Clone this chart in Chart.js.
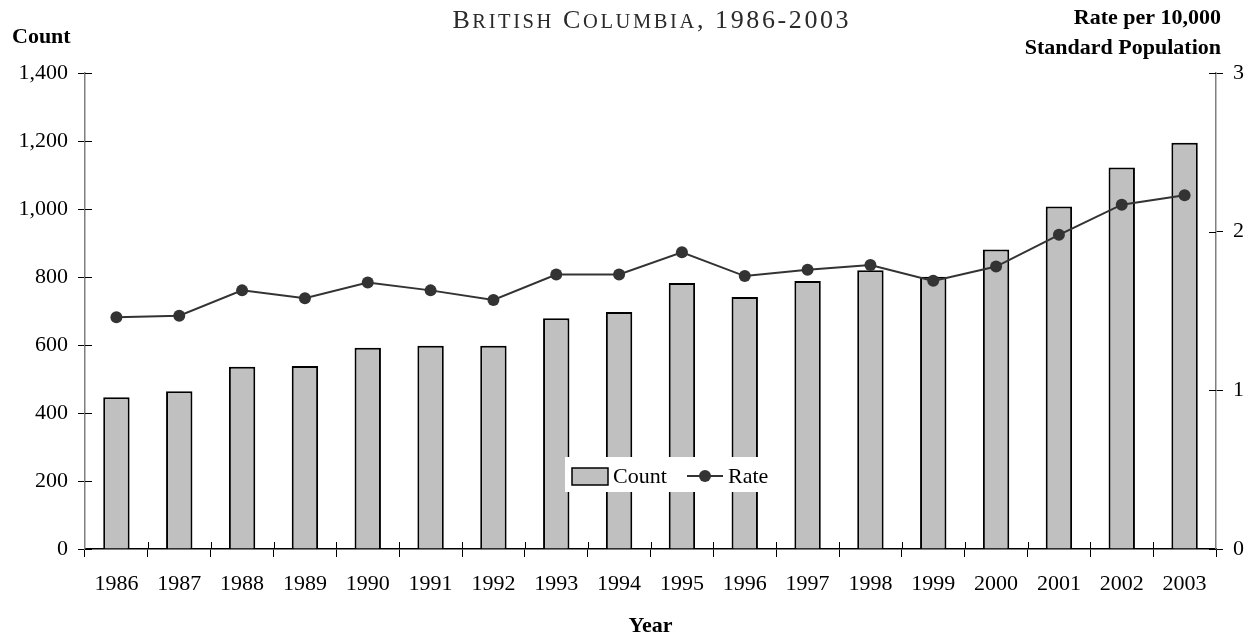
<!DOCTYPE html>
<html>
<head>
<meta charset="utf-8">
<script src="https://cdn.jsdelivr.net/npm/chart.js@4"></script>
<style>
  body { margin: 0; background: #fff; }
  #wrap { width: 1251px; height: 637px; position: relative; }
</style>
</head>
<body>
<div id="wrap"><canvas id="theGraph"></canvas></div>
<script>
// years on the x-axis
var years = ["1986", "1987", "1988", "1989", "1990", "1991", "1992", "1993", "1994",
             "1995", "1996", "1997", "1998", "1999", "2000", "2001", "2002", "2003"];
// counts (left axis)
var counts = [446, 464, 536, 538, 592, 598, 598, 679, 697, 782, 741, 788, 820, 801, 881, 1007, 1122, 1195];
// rate per 10,000 standard population (right axis)
var rates = [1.46, 1.47, 1.63, 1.58, 1.68, 1.63, 1.57, 1.73, 1.73, 1.87, 1.72, 1.76, 1.79, 1.69, 1.78, 1.98, 2.17, 2.23];

var serif = "'Liberation Serif', 'Times New Roman', serif";
var titleText = "British Columbia, 1986-2003";

// small caps by hand: lower case letters drawn as smaller capitals
function drawSmallCaps(c, text, cx, baseline) {
    var big = "26px " + serif, small = "20.5px " + serif, gap = 2.6;
    var parts = [];
    var total = 0;
    for (var i = 0; i < text.length; i++) {
        var ch = text[i];
        var low = ch !== ch.toUpperCase();
        var f = low ? small : big;
        c.font = f;
        var w = c.measureText(ch.toUpperCase()).width;
        parts.push([ch.toUpperCase(), f, w]);
        total += w + (i < text.length - 1 ? gap : 0);
    }
    var x = cx - total / 2;
    c.textAlign = "left";
    c.textBaseline = "alphabetic";
    parts.forEach(function (p) {
        c.font = p[1];
        c.fillText(p[0], x, baseline);
        x += p[2] + gap;
    });
}

// titles, legend and the inside half of the ticks
var extras = {
    id: "extras",
    afterDatasetsDraw: function (chart) {
        var c = chart.ctx;
        c.save();
        // legend box
        c.fillStyle = "#fff";
        c.fillRect(565, 457, 216, 35);
        c.fillStyle = "#c0c0c0";
        c.fillRect(572, 468, 36, 17);
        c.strokeStyle = "#000";
        c.lineWidth = 1.5;
        c.strokeRect(572, 468, 36, 17);
        c.fillStyle = "#000";
        c.font = "22px " + serif;
        c.textBaseline = "middle";
        c.textAlign = "left";
        c.fillText("Count", 613, 477);
        c.strokeStyle = "#333";
        c.lineWidth = 2;
        c.beginPath();
        c.moveTo(687, 476);
        c.lineTo(723, 476);
        c.stroke();
        c.fillStyle = "#333";
        c.beginPath();
        c.arc(705, 476, 6, 0, Math.PI * 2);
        c.fill();
        c.fillStyle = "#000";
        c.fillText("Rate", 728, 477);
        c.restore();
    },
    afterDraw: function (chart) {
        var c = chart.ctx;
        var a = chart.chartArea;
        c.save();
        c.strokeStyle = "#000";
        c.lineWidth = 1;
        c.beginPath();
        var ys = chart.scales.y;
        ys.ticks.forEach(function (t, i) {
            var py = Math.round(ys.getPixelForTick(i)) + 0.5;
            c.moveTo(a.left, py);
            c.lineTo(a.left + 7, py);
        });
        var y1 = chart.scales.y1;
        y1.ticks.forEach(function (t, i) {
            var py = Math.round(y1.getPixelForTick(i)) + 0.5;
            c.moveTo(a.right, py);
            c.lineTo(a.right - 7, py);
        });
        var n = years.length;
        for (var i = 1; i < n; i++) {
            var px = Math.round(a.left + i * (a.right - a.left) / n) + 0.5;
            c.moveTo(px, a.bottom);
            c.lineTo(px, a.bottom - 7);
        }
        c.stroke();

        // title
        c.fillStyle = "#2a2a2a";
        drawSmallCaps(c, titleText, (a.left + a.right) / 2, 28);

        // axis titles
        c.fillStyle = "#000";
        c.font = "bold 22px " + serif;
        c.textBaseline = "middle";
        c.textAlign = "left";
        c.fillText("Count", 12, 37);
        c.textAlign = "right";
        c.fillText("Rate per 10,000", 1221, 18);
        c.fillText("Standard Population", 1221, 48);
        c.restore();
    }
};

var ctx = document.getElementById("theGraph");

var graph = new Chart(ctx, {
    type: "bar",
    data: {
        labels: years,
        datasets: [
            {
                type: "line",
                label: "Rate",
                data: rates,
                yAxisID: "y1",
                borderColor: "#333",
                borderWidth: 2,
                pointRadius: 6,
                pointBackgroundColor: "#333",
                pointBorderWidth: 0,
                tension: 0,
                order: 0
            },
            {
                label: "Count",
                data: counts,
                yAxisID: "y",
                backgroundColor: "#c0c0c0",
                borderColor: "#000",
                borderWidth: 2,
                categoryPercentage: 1,
                barPercentage: 0.42,
                order: 1
            }
        ]
    },
    options: {
        responsive: true,
        maintainAspectRatio: false,
        animation: false,
        layout: { padding: { top: 73, left: 0, right: 0, bottom: 0 } },
        plugins: {
            legend: { display: false },
            tooltip: { enabled: false },
            title: { display: false }
        },
        scales: {
            x: {
                offset: true,
                grid: { offset: true, drawOnChartArea: false, drawTicks: true, tickLength: 8, color: "#000" },
                border: { color: "#000", width: 1.5 },
                ticks: { color: "#000", font: { family: serif, size: 22 }, padding: 14, maxRotation: 0, autoSkip: false },
                title: {
                    display: true,
                    text: "Year",
                    color: "#000",
                    font: { family: serif, size: 22, weight: "bold", lineHeight: 1 },
                    padding: { top: 0, bottom: 0 }
                },
                afterFit: function (s) { s.height = 88; }
            },
            y: {
                position: "left",
                min: 0,
                max: 1400,
                grid: { drawOnChartArea: false, tickLength: 7, color: "#000" },
                border: { color: "#808080", width: 1.5 },
                ticks: { stepSize: 200, color: "#000", font: { family: serif, size: 22 }, padding: 10 },
                afterFit: function (s) { s.width = 85; }
            },
            y1: {
                position: "right",
                min: 0,
                max: 3,
                grid: { drawOnChartArea: false, tickLength: 7, color: "#000" },
                border: { color: "#808080", width: 1.5 },
                ticks: { stepSize: 1, color: "#000", font: { family: serif, size: 22 }, padding: 10 },
                afterFit: function (s) { s.width = 35; }
            }
        }
    },
    plugins: [extras]
});
</script>
</body>
</html>
